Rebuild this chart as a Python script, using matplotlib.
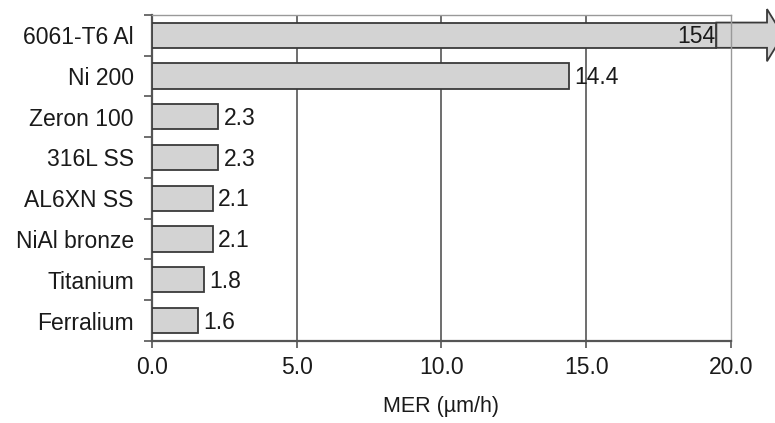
import numpy as np
import matplotlib
matplotlib.use('Agg')
import matplotlib.pyplot as plt
from matplotlib.patches import FancyArrow

plt.rcParams['font.family'] = ['Liberation Sans', 'DejaVu Sans']

# --- Data ---
materials = ['6061-T6 Al', 'Ni 200', 'Zeron 100', '316L SS', 'AL6XN SS',
             'NiAl bronze', 'Titanium', 'Ferralium']
mer = [154, 14.4, 2.3, 2.3, 2.1, 2.1, 1.8, 1.6]
value_labels = ['154', '14.4', '2.3', '2.3', '2.1', '2.1', '1.8', '1.6']
xticks = [0, 5, 10, 15, 20]

XMAX = 20
CAP = 19.5          # where an off-scale bar is broken into an arrow
FACE = '#d3d3d3'
EDGE = '#3a3a3a'
TXT = '#1a1a1a'
FS = 16.5

fig = plt.figure(figsize=(7.75, 4.23), dpi=100)
ax = fig.add_axes([0.196, 0.194, 0.747, 0.771])

y = np.arange(len(materials))
shown = np.minimum(mer, CAP)
ax.barh(y, shown, height=0.62, color=FACE, edgecolor=EDGE, linewidth=1.3,
        zorder=3)

for yi, v, s, lab in zip(y, mer, shown, value_labels):
    if v > XMAX:
        arr = FancyArrow(CAP, yi, 2.3, 0, width=0.62, head_width=1.28,
                         head_length=0.55, length_includes_head=True,
                         facecolor=FACE, edgecolor=EDGE, linewidth=1.3,
                         clip_on=False, zorder=2)
        ax.add_patch(arr)
        ax.text(s - 0.05, yi + 0.04, lab, ha='right', va='center',
                fontsize=FS, color=TXT, zorder=4)
    else:
        ax.text(s + 0.18, yi + 0.04, lab, ha='left', va='center',
                fontsize=FS, color=TXT, zorder=4)

ax.set_xlim(0, XMAX)
ax.set_ylim(len(materials) - 0.5, -0.5)

ax.set_xticks(xticks)
ax.set_xticklabels(['%.1f' % t for t in xticks], fontsize=FS, color=TXT)
ax.tick_params(axis='x', direction='out', length=5, width=1.2,
               color='#555555', pad=6)
for t in xticks[1:-1]:
    ax.axvline(t, color='#555555', linewidth=1.2, zorder=1)

ax.set_yticks(y)
ax.set_yticklabels(materials, fontsize=FS, color=TXT)
ax.set_yticks(np.arange(len(materials) + 1) - 0.5, minor=True)
ax.tick_params(axis='y', which='major', length=0, pad=13)
ax.tick_params(axis='y', which='minor', direction='out', length=6,
               width=1.2, color='#555555')

for side in ['left', 'bottom']:
    ax.spines[side].set_color('#555555')
    ax.spines[side].set_linewidth(1.6)
for side in ['top', 'right']:
    ax.spines[side].set_color('#999999')
    ax.spines[side].set_linewidth(1.0)

ax.set_xlabel('MER (µm/h)', fontsize=15.5, color=TXT, labelpad=12)

fig.savefig('out.png', dpi=100)
